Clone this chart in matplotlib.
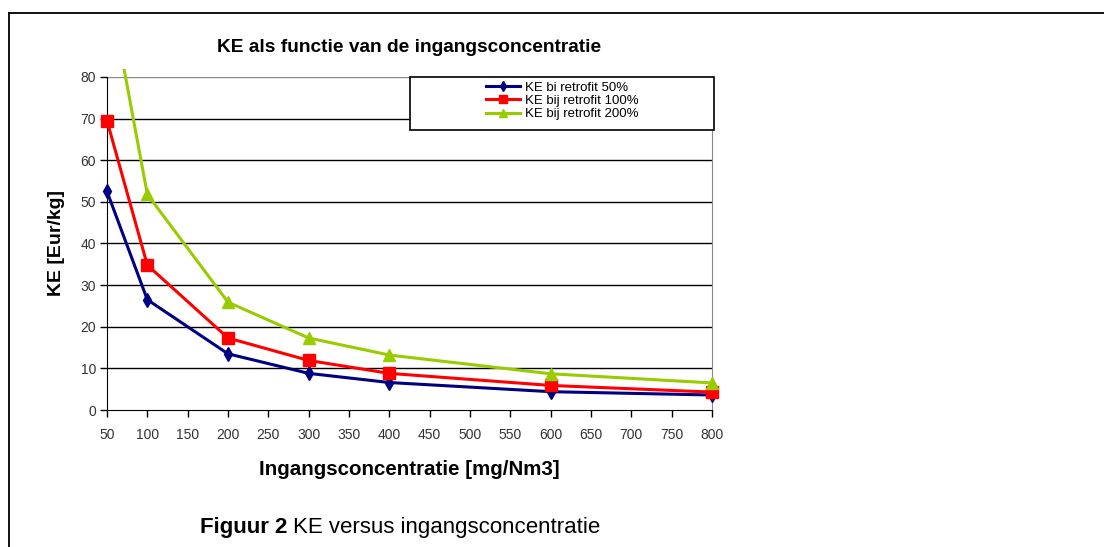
import numpy as np
import matplotlib
matplotlib.use("Agg")
import matplotlib.pyplot as plt
from matplotlib.patches import Rectangle
from matplotlib.lines import Line2D

plt.rcParams['font.family'] = ['Liberation Sans', 'DejaVu Sans']

# data
conc = [50, 100, 200, 300, 400, 600, 800]
ke_50 = [52.5, 26.5, 13.5, 8.8, 6.6, 4.4, 3.6]
ke_100 = [69.5, 34.8, 17.3, 11.9, 8.8, 5.9, 4.3]
ke_200 = [104.0, 51.8, 25.9, 17.3, 13.2, 8.7, 6.5]
labels = ['KE bi retrofit 50%', 'KE bij retrofit 100%', 'KE bij retrofit 200%']

x_ticks = np.arange(50, 801, 50)
y_ticks = np.arange(0, 81, 10)

fig = plt.figure(figsize=(11.04, 5.47), dpi=100)
ax = fig.add_axes([107/1104, 1 - 410/547, 605/1104, 333/547])

# outer frame of the figure box (top and left only)
fig.add_artist(Line2D([9/1104, 1], [1 - 13/547, 1 - 13/547], color='black', lw=1.3, transform=fig.transFigure))
fig.add_artist(Line2D([9/1104, 9/1104], [0, 1 - 13/547], color='black', lw=1.3, transform=fig.transFigure))

# grid lines
for yv in y_ticks[1:]:
    ax.axhline(yv, color='#888888' if yv == 80 else 'black', lw=1.0, zorder=1)

clip = Rectangle((-0.03, -0.03), 1.06, 1.055, transform=ax.transAxes)
l1, = ax.plot(conc, ke_50, color='#000080', lw=2.2, marker='d', ms=7, label=labels[0], zorder=3)
l2, = ax.plot(conc, ke_100, color='#ff0000', lw=2.2, marker='s', ms=8, label=labels[1], zorder=3)
l3, = ax.plot(conc, ke_200, color='#99cc00', lw=2.2, marker='^', ms=8, label=labels[2], zorder=3)
for ln in (l1, l2, l3):
    ln.set_clip_path(clip)

ax.set_xlim(50, 800)
ax.set_ylim(0, 80)
ax.set_xticks(x_ticks)
ax.set_yticks(y_ticks)
ax.tick_params(axis='both', labelsize=10, labelcolor='#333333', length=5, width=1, direction='out')
ax.tick_params(axis='x', pad=8)
ax.tick_params(axis='y', pad=3)

ax.spines['top'].set_visible(False)
ax.spines['right'].set_color('#888888')
ax.spines['left'].set_color('black')
ax.spines['bottom'].set_color('black')

ax.set_title('KE als functie van de ingangsconcentratie', fontsize=13.8, fontweight='bold', pad=18)
ax.set_xlabel('Ingangsconcentratie [mg/Nm3]', fontsize=14.8, fontweight='bold', labelpad=13)
ax.set_ylabel('KE [Eur/kg]', fontsize=14, fontweight='bold', labelpad=11)

# legend box
ax.add_patch(Rectangle((0.5, 0.84), 0.504, 0.16, transform=ax.transAxes, fill=True,
                       facecolor='white', edgecolor='black', lw=1.2, clip_on=False, zorder=4))
ax.legend(loc='center', bbox_to_anchor=(0.5, 0.848, 0.504, 0.16), frameon=False, fontsize=9.5,
          handlelength=2.6, handletextpad=0.35, labelspacing=0.08, markerscale=0.75, borderpad=0)

fig.text(200/1104, 1 - 528/547, 'Figuur 2', fontsize=16, fontweight='bold', va='center', ha='left')
fig.text(293/1104, 1 - 528/547, 'KE versus ingangsconcentratie', fontsize=16, va='center', ha='left')

fig.savefig('out.png', dpi=100)
